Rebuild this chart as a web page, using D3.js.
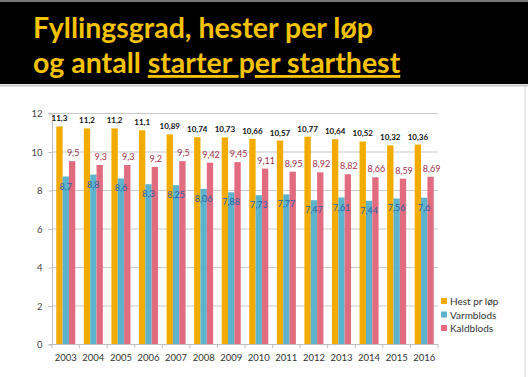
<!DOCTYPE html>
<html>
<head>
<meta charset="utf-8">
<script src="https://cdn.jsdelivr.net/npm/d3@7"></script>
<style>
  body { margin: 0; background: #fff; }
  svg { display: block; font-family: Lato, "Open Sans", sans-serif; }
</style>
</head>
<body>
<div id="chart"></div>
<script>
// data
const years = ["2003","2004","2005","2006","2007","2008","2009","2010","2011","2012","2013","2014","2015","2016"];
const hest = [11.3, 11.2, 11.2, 11.1, 10.89, 10.74, 10.73, 10.66, 10.57, 10.77, 10.64, 10.52, 10.32, 10.36];
const varmblods = [8.7, 8.8, 8.6, 8.3, 8.25, 8.06, 7.88, 7.73, 7.77, 7.47, 7.61, 7.44, 7.56, 7.6];
const kaldblods = [9.5, 9.3, 9.3, 9.2, 9.5, 9.42, 9.45, 9.11, 8.95, 8.92, 8.82, 8.66, 8.59, 8.69];
const seriesNames = ["Hest pr løp", "Varmblods", "Kaldblods"];
const yTicks = [0, 2, 4, 6, 8, 10, 12];

const W = 528, H = 377;
const colors = ["#F2AB00", "#5DB3CB", "#E16C80"];
const labelColors = ["#111", "#2a62a8", "#a3324f"];

const svg = d3.select("#chart").append("svg")
  .attr("width", W).attr("height", H);

// header band
svg.append("rect").attr("x", 0).attr("y", 0).attr("width", W).attr("height", 84).attr("fill", "#000");
svg.append("rect").attr("x", 0).attr("y", 0).attr("width", W).attr("height", 2).attr("fill", "#777");
svg.append("line").attr("x1", 0).attr("x2", W).attr("y1", 85.5).attr("y2", 85.5)
  .attr("stroke", "#c8c8c8").attr("stroke-width", 2);
svg.append("line").attr("x1", 525).attr("x2", 525).attr("y1", 86).attr("y2", H)
  .attr("stroke", "#d6d6d6");

const title = svg.append("g")
  .attr("fill", "#F5C200")
  .style("font-size", "28.5px")
  .style("font-weight", "bold");
title.append("text").attr("x", 33).attr("y", 38).text("Fyllingsgrad, hester per løp");
const t2 = title.append("text").attr("x", 33).attr("y", 73);
t2.append("tspan").text("og antall ");
t2.append("tspan").attr("text-decoration", "underline").text("starter ");
t2.append("tspan").text("p");
t2.append("tspan").attr("text-decoration", "underline").text("er starthest");

// chart
const margin = {left: 52, right: 90, top: 113, bottom: 33};
const x = d3.scaleBand().domain(years).range([52, 438]).paddingInner(0.31).paddingOuter(0.155);
const xs = d3.scaleBand().domain(d3.range(3)).range([0, x.bandwidth()]);
const y = d3.scaleLinear().domain([0, 12]).range([344, 113]);

const grid = svg.append("g");
grid.selectAll("line").data(yTicks.filter(d => d > 0)).join("line")
  .attr("x1", 52).attr("x2", 438)
  .attr("y1", d => y(d) + 0.5).attr("y2", d => y(d) + 0.5)
  .attr("stroke", "#c9c9c9");

const yAxis = svg.append("g")
  .attr("transform", "translate(52.5,0.5)")
  .call(d3.axisLeft(y).tickValues(yTicks).tickSize(4).tickPadding(6).tickFormat(d3.format("d")));
yAxis.select(".domain").attr("stroke", "#bdbdbd").attr("d", `M-4,${y(0)}H0V${y(12)}H-4`);
yAxis.selectAll(".tick line").attr("stroke", "#bdbdbd");
yAxis.selectAll("text").attr("fill", "#444").style("font-size", "9.5px").style("font-family", "Lato, sans-serif");

const xAxis = svg.append("g")
  .attr("transform", `translate(0,${y(0) + 0.5})`)
  .call(d3.axisBottom(x).tickSize(0).tickPadding(10));
xAxis.select(".domain").attr("stroke", "#bdbdbd").attr("d", "M52,0H438");
xAxis.selectAll("text").attr("fill", "#333").style("font-size", "9.5px").style("font-family", "Lato, sans-serif");
// ticks between categories
svg.append("g").selectAll("line").data(d3.range(years.length + 1)).join("line")
  .attr("x1", i => 52 + i * x.step()).attr("x2", i => 52 + i * x.step())
  .attr("y1", y(0)).attr("y2", y(0) + 4)
  .attr("stroke", "#bdbdbd");

const all = [hest, varmblods, kaldblods];
const fmt = v => String(v).replace(".", ",");

all.forEach((vals, s) => {
  const g = svg.append("g");
  g.selectAll("rect").data(vals).join("rect")
    .attr("x", (d, i) => x(years[i]) + xs(s))
    .attr("width", xs.bandwidth())
    .attr("y", d => y(d))
    .attr("height", d => y(0) - y(d))
    .attr("fill", colors[s]);
});

// data labels
const lab = svg.append("g").style("font-size", "8px").attr("text-anchor", "middle");
lab.selectAll(".lh").data(hest).join("text")
  .attr("x", (d, i) => x(years[i]) + xs(0) + xs.bandwidth() / 2)
  .attr("y", d => y(d) - 5)
  .attr("fill", labelColors[0]).style("font-weight", "bold")
  .text(fmt);
lab.selectAll(".lv").data(varmblods).join("text")
  .attr("x", (d, i) => x(years[i]) + xs(1) + xs.bandwidth() / 2)
  .attr("y", d => y(d) + 13)
  .attr("fill", labelColors[1])
  .style("font-size", "9px")
  .text(fmt);
lab.selectAll(".lk").data(kaldblods).join("text")
  .attr("x", (d, i) => x(years[i]) + xs(2) + xs.bandwidth() / 2 + 1)
  .attr("y", d => y(d) - 5)
  .attr("fill", labelColors[2])
  .style("font-size", "9px")
  .text(fmt);

// legend
const leg = svg.append("g").attr("transform", "translate(441,298)");
seriesNames.forEach((n, i) => {
  leg.append("rect").attr("x", 0).attr("y", i * 13.5).attr("width", 6).attr("height", 6).attr("fill", colors[i]);
  leg.append("text").attr("x", 9).attr("y", i * 13.5 + 7).attr("fill", "#333")
    .style("font-size", "10px").text(n);
});
</script>
</body>
</html>
